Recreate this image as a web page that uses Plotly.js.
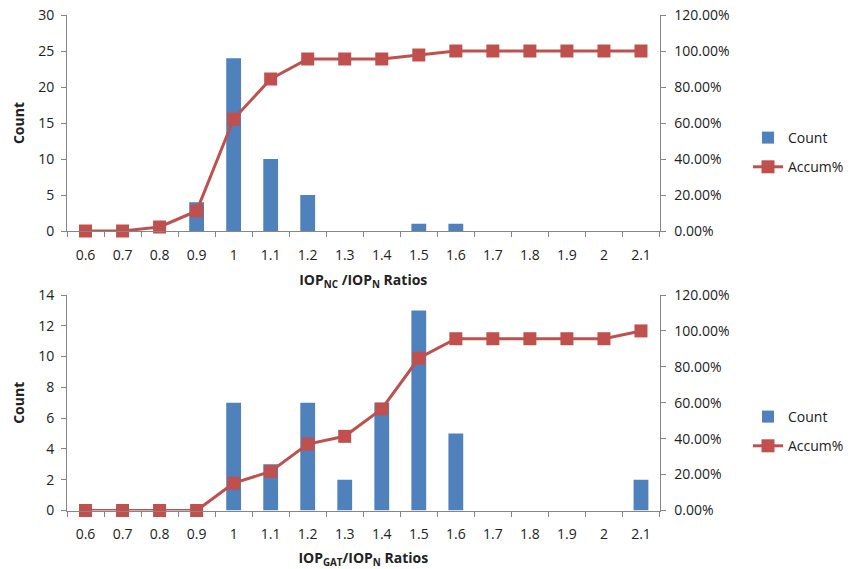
<!DOCTYPE html>
<html><head><meta charset="utf-8">
<script src="https://cdn.plot.ly/plotly-3.0.1.min.js"></script>
<style>body{margin:0;background:#fff}#chart{width:849px;height:569px}</style>
</head><body><div id="chart"></div>
<script>
const categories = ["0.6","0.7","0.8","0.9","1","1.1","1.2","1.3","1.4","1.5","1.6","1.7","1.8","1.9","2","2.1"];
const countNC = [0,0,0,4,24,10,5,0,0,1,1,0,0,0,0,0];
const accumNC = [0,0,0.0222,0.1111,0.6222,0.8444,0.9556,0.9556,0.9556,0.9778,1,1,1,1,1,1];
const countGAT = [0,0,0,0,7,3,7,2,7,13,5,0,0,0,0,2];
const accumGAT = [0,0,0,0,0.1522,0.2174,0.3696,0.413,0.5652,0.8478,0.9565,0.9565,0.9565,0.9565,0.9565,1];

const barColor = "#4F81BD", lineColor = "#C0504D", axisColor = "#868686";
const fam = "Open Sans, Liberation Sans, Arial, sans-serif";
const tickFont = {family: fam, size: 14, color: "#222"};
const titleFont = {family: fam, size: 14, color: "#222"};

const traces = [
  {type:"bar", x:categories, y:countNC, name:"Count", marker:{color:barColor}, xaxis:"x", yaxis:"y", legend:"legend", legendgroup:"a"},
  {type:"scatter", mode:"lines+markers", cliponaxis:false, x:categories, y:accumNC, name:"Accum%", line:{color:lineColor, width:3}, marker:{symbol:"square", size:13, color:lineColor}, xaxis:"x", yaxis:"y2", legend:"legend", legendgroup:"b"},
  {type:"bar", x:categories, y:countGAT, name:"Count", marker:{color:barColor}, xaxis:"x2", yaxis:"y3", legend:"legend2", legendgroup:"c"},
  {type:"scatter", mode:"lines+markers", cliponaxis:false, x:categories, y:accumGAT, name:"Accum%", line:{color:lineColor, width:3}, marker:{symbol:"square", size:13, color:lineColor}, xaxis:"x2", yaxis:"y4", legend:"legend2", legendgroup:"d"}
];

const xd = [67/849, 659.5/849];
const topD = [(569-231)/569, (569-15)/569];
const botD = [(569-510.5)/569, (569-295)/569];

function xax(anchor, title){
  return {domain: xd, anchor: anchor, type:"category", range:[-0.5, categories.length-0.5], showline:true, linecolor:axisColor, linewidth:1,
    ticks:"outside", ticklen:5, tickcolor:axisColor, tickson:"boundaries", showgrid:false, zeroline:false,
    ticklabelstandoff:11, tickfont: tickFont, title:{text:title, font:titleFont, standoff:12}};
}
function yl(anchor, domain, max, dt){
  return {domain: domain, anchor: anchor, range:[0,max], dtick:dt, showline:true, linecolor:axisColor, linewidth:1,
    ticks:"outside", ticklen:5, tickcolor:axisColor, showgrid:false, zeroline:false, tickfont: tickFont,
    ticklabelstandoff:4, title:{text:"<b>Count</b>", font:titleFont, standoff:10}};
}
function yr(anchor, overlay){
  return {overlaying: overlay, side:"right", anchor: anchor, range:[0,1.2], dtick:0.2, tickformat:".2%",
    showline:true, linecolor:axisColor, linewidth:1, ticks:"outside", ticklen:5, tickcolor:axisColor,
    showgrid:false, zeroline:false, tickfont: tickFont, ticklabelstandoff:6};
}

const layout = {
  width:849, height:569, margin:{l:0,r:0,t:0,b:0}, paper_bgcolor:"#fff", plot_bgcolor:"#fff",
  font: tickFont, bargap:0.6, showlegend:true,
  xaxis: xax("y", "<b>IOP<sub>NC</sub> /IOP<sub>N</sub> Ratios</b>"),
  yaxis: yl("x", topD, 30, 5),
  yaxis2: yr("x", "y"),
  xaxis2: xax("y3", "<b>IOP<sub>GAT</sub>/IOP<sub>N</sub> Ratios</b>"),
  yaxis3: yl("x2", botD, 14, 2),
  yaxis4: yr("x2", "y3"),
  legend: {x:748/849, xanchor:"left", y:(569-122)/569, yanchor:"top", bgcolor:"rgba(0,0,0,0)", font:tickFont, tracegroupgap:8},
  legend2: {x:748/849, xanchor:"left", y:(569-401)/569, yanchor:"top", bgcolor:"rgba(0,0,0,0)", font:tickFont, tracegroupgap:8}
};

Plotly.newPlot("chart", traces, layout, {displayModeBar:false, staticPlot:true});
</script></body></html>
